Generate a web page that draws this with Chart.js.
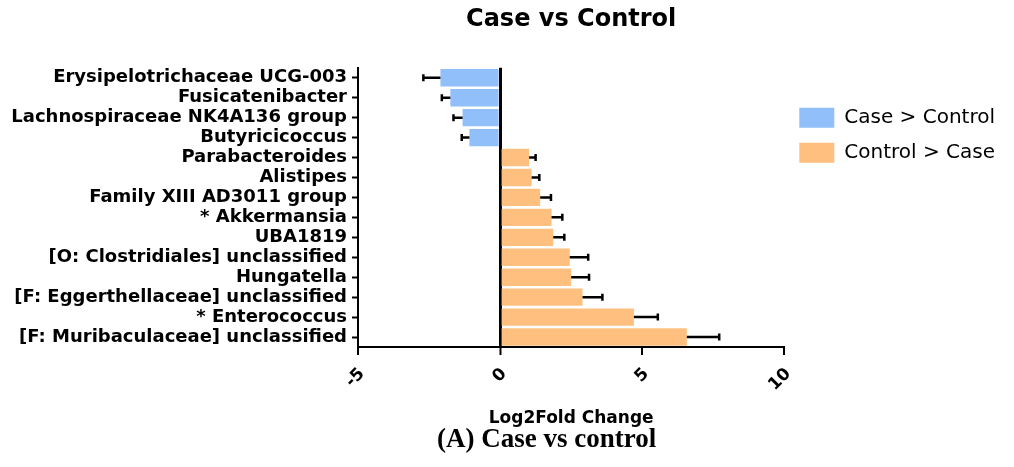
<!DOCTYPE html>
<html>
<head>
<meta charset="utf-8">
<script src="https://cdn.jsdelivr.net/npm/chart.js@4"></script>
<style>
  html, body { margin: 0; padding: 0; background: #fff; }
  #wrap { position: relative; width: 1014px; height: 467px; }
  #caption {
    position: absolute; left: 437px; top: 425px;
    font: bold 27px 'Liberation Serif', 'Times New Roman', serif;
    line-height: 27px; color: #000; white-space: nowrap;
  }
</style>
</head>
<body>
<div id="wrap">
  <canvas id="fcChart" width="1014" height="467"></canvas>
  <div id="caption">(A) Case vs control</div>
</div>
<script>
const genera = [
  'Erysipelotrichaceae UCG-003',
  'Fusicatenibacter',
  'Lachnospiraceae NK4A136 group',
  'Butyricicoccus',
  'Parabacteroides',
  'Alistipes',
  'Family XIII AD3011 group',
  '* Akkermansia',
  'UBA1819',
  '[O: Clostridiales] unclassified',
  'Hungatella',
  '[F: Eggerthellaceae] unclassified',
  '* Enterococcus',
  '[F: Muribaculaceae] unclassified'
];
const log2fc = [-2.1, -1.75, -1.32, -1.08, 1.02, 1.11, 1.41, 1.81, 1.87, 2.45, 2.5, 2.9, 4.71, 6.57];
const stdErr = [0.6, 0.3, 0.32, 0.27, 0.23, 0.27, 0.38, 0.38, 0.39, 0.65, 0.63, 0.7, 0.84, 1.14];
const xTicks = [-5, 0, 5, 10];

const BLUE = '#91bff9';
const ORANGE = '#ffc07f';

// split by sign so each group gets its own legend entry
const caseHigher = log2fc.map(v => v < 0 ? v : null);
const controlHigher = log2fc.map(v => v >= 0 ? v : null);

Chart.defaults.font.family = "'DejaVu Sans', sans-serif";
Chart.defaults.color = '#000';

// error whiskers on the outer end of each bar
const errorBars = {
  id: 'errorBars',
  afterDatasetsDraw(chart) {
    const ctx = chart.ctx;
    const xs = chart.scales.x;
    ctx.save();
    ctx.strokeStyle = '#000';
    ctx.lineWidth = 2.5;
    chart.data.datasets.forEach((ds, di) => {
      const meta = chart.getDatasetMeta(di);
      meta.data.forEach((bar, i) => {
        const v = ds.data[i];
        if (v === null) return;
        const end = xs.getPixelForValue(v < 0 ? v - stdErr[i] : v + stdErr[i]);
        ctx.beginPath();
        ctx.moveTo(bar.x, bar.y);
        ctx.lineTo(end, bar.y);
        ctx.moveTo(end, bar.y - 3.5);
        ctx.lineTo(end, bar.y + 3.5);
        ctx.stroke();
      });
    });
    ctx.restore();
  }
};

new Chart(document.getElementById('fcChart'), {
  type: 'bar',
  data: {
    labels: genera,
    datasets: [
      { label: 'Case > Control', data: caseHigher, backgroundColor: BLUE, borderWidth: 0, grouped: false },
      { label: 'Control > Case', data: controlHigher, backgroundColor: ORANGE, borderWidth: 0, grouped: false }
    ]
  },
  options: {
    indexAxis: 'y',
    responsive: false,
    animation: false,
    barPercentage: 0.87,
    categoryPercentage: 1,
    layout: { padding: { top: 0, right: 9, bottom: 0, left: 0 } },
    plugins: {
      title: {
        display: true,
        text: 'Case vs Control',
        fullSize: false,
        font: { size: 24, weight: 'bold' },
        padding: { top: 5, bottom: 34 }
      },
      legend: {
        position: 'right',
        align: 'start',
        fullSize: false,
        title: { display: true, text: '', font: { size: 10 }, padding: { top: 13, bottom: 0 } },
        labels: {
          boxWidth: 35,
          boxHeight: 20,
          padding: 15,
          font: { size: 20 }
        }
      },
      tooltip: { enabled: false }
    },
    scales: {
      x: {
        min: -5,
        max: 10,
        afterBuildTicks: s => { s.ticks = xTicks.map(v => ({ value: v })); },
        afterFit: s => { s.height = 120; },
        ticks: {
          minRotation: 45,
          maxRotation: 45,
          padding: 9,
          labelOffset: 4,
          font: { size: 17, weight: 'bold' }
        },
        grid: {
          drawOnChartArea: true,
          color: c => (c.tick && c.tick.value === 0) ? '#000' : 'rgba(0,0,0,0)',
          lineWidth: c => (c.tick && c.tick.value === 0) ? 3 : 2,
          tickColor: '#000',
          tickWidth: 2,
          tickLength: 8
        },
        border: { display: true, color: '#000', width: 2 },
        title: {
          display: true,
          text: 'Log2Fold Change',
          font: { size: 17, weight: 'bold' },
          padding: { top: 0, bottom: 38 }
        }
      },
      y: {
        afterFit: s => { s.width = 358; },
        ticks: {
          padding: 5,
          autoSkip: false,
          font: { size: 18, weight: 'bold' }
        },
        grid: {
          offset: false,
          drawOnChartArea: false,
          tickColor: '#000',
          tickWidth: 2,
          tickLength: 6
        },
        border: { display: true, color: '#000', width: 2 }
      }
    }
  },
  plugins: [errorBars]
});
</script>
</body>
</html>
